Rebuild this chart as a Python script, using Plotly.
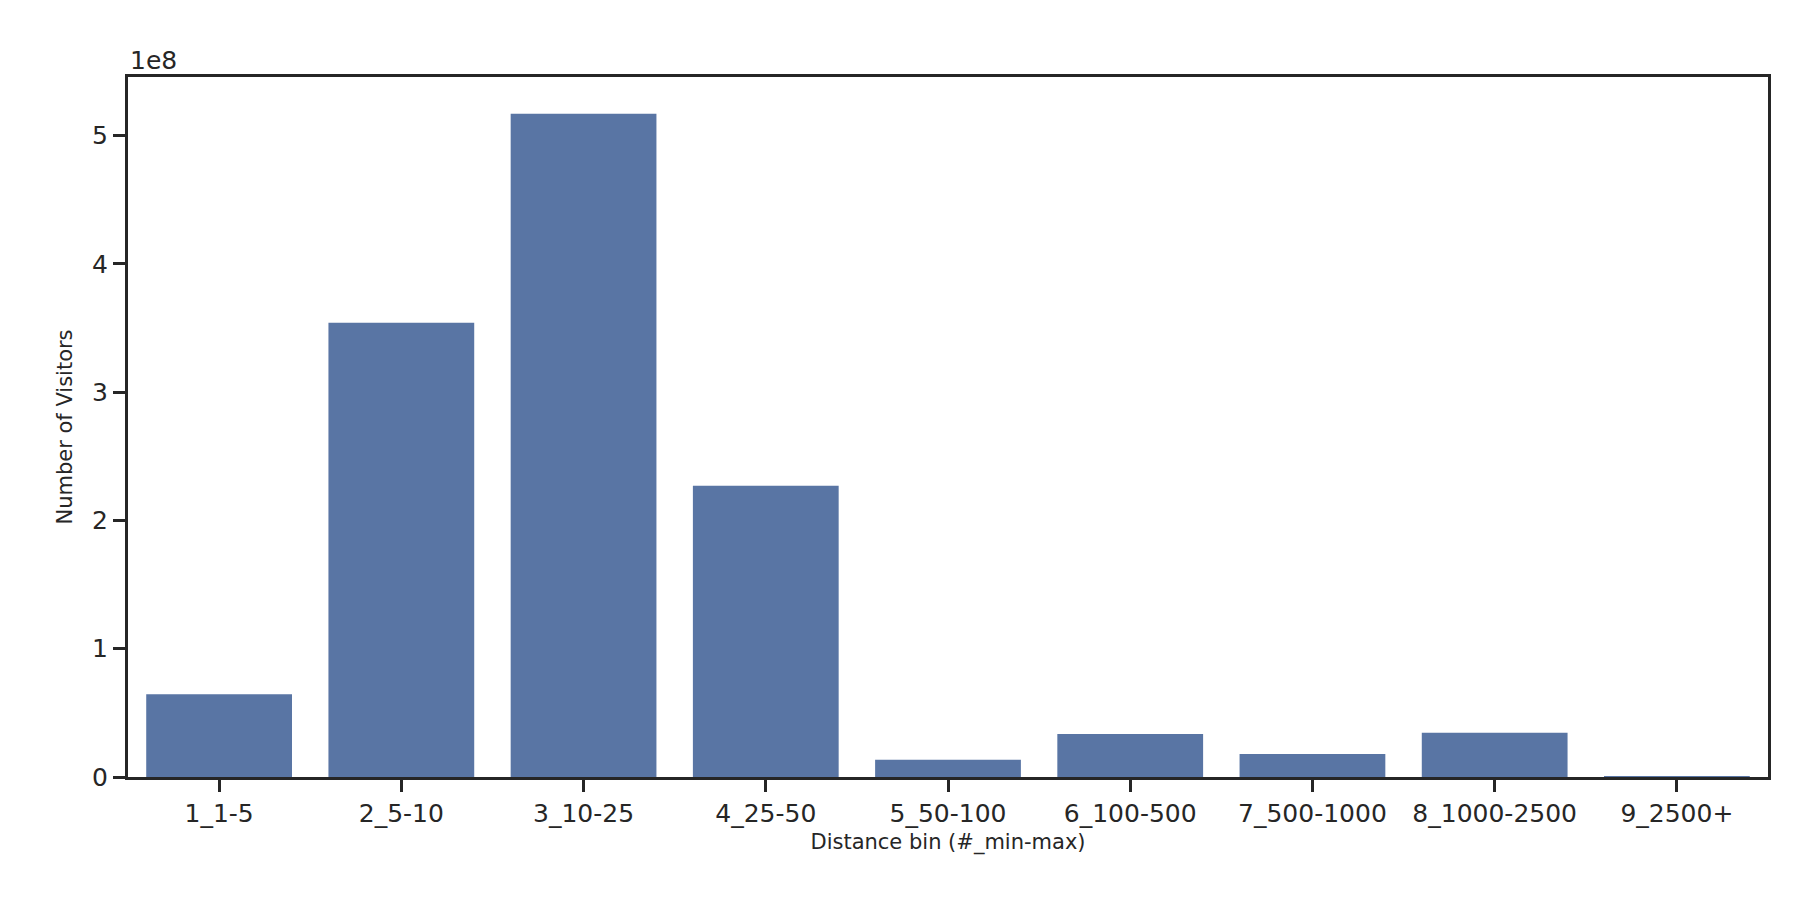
import plotly.graph_objects as go

bins = ["1_1-5", "2_5-10", "3_10-25", "4_25-50", "5_50-100",
        "6_100-500", "7_500-1000", "8_1000-2500", "9_2500+"]
visitors = [0.645e8, 3.54e8, 5.17e8, 2.27e8, 0.135e8, 0.335e8, 0.18e8, 0.345e8, 0.002e8]
ytick_vals = [0, 1e8, 2e8, 3e8, 4e8, 5e8]
ytick_text = ["0", "1", "2", "3", "4", "5"]

fig = go.Figure()
fig.add_trace(go.Bar(x=list(range(len(bins))), y=visitors, width=0.8,
                     marker=dict(color="#5975a4", line=dict(width=0))))

axis_common = dict(showline=True, linecolor="#262626", linewidth=3, mirror=True,
                   ticks="outside", ticklen=12, tickwidth=3, tickcolor="#262626",
                   showgrid=False, zeroline=False,
                   tickfont=dict(size=25, color="#262626"))
fig.update_xaxes(range=[-0.5, 8.5], tickvals=list(range(len(bins))), ticktext=bins,
                 title=dict(text="Distance bin (#_min-max)", font=dict(size=21, color="#262626"),
                            standoff=8),
                 **axis_common)
fig.update_yaxes(range=[0, 5.456e8], tickvals=ytick_vals, ticktext=ytick_text,
                 title=dict(text="Number of Visitors", font=dict(size=21, color="#262626"),
                            standoff=14),
                 **axis_common)
fig.add_annotation(text="1e8", xref="paper", yref="paper", x=0, y=1.0,
                   xanchor="left", yanchor="bottom", showarrow=False,
                   font=dict(size=25, color="#262626"))
fig.update_layout(width=1800, height=900, plot_bgcolor="white", paper_bgcolor="white",
                  font=dict(family="DejaVu Sans"), showlegend=False,
                  margin=dict(l=120, r=40, t=69, b=131))
fig.write_html("out.html")
